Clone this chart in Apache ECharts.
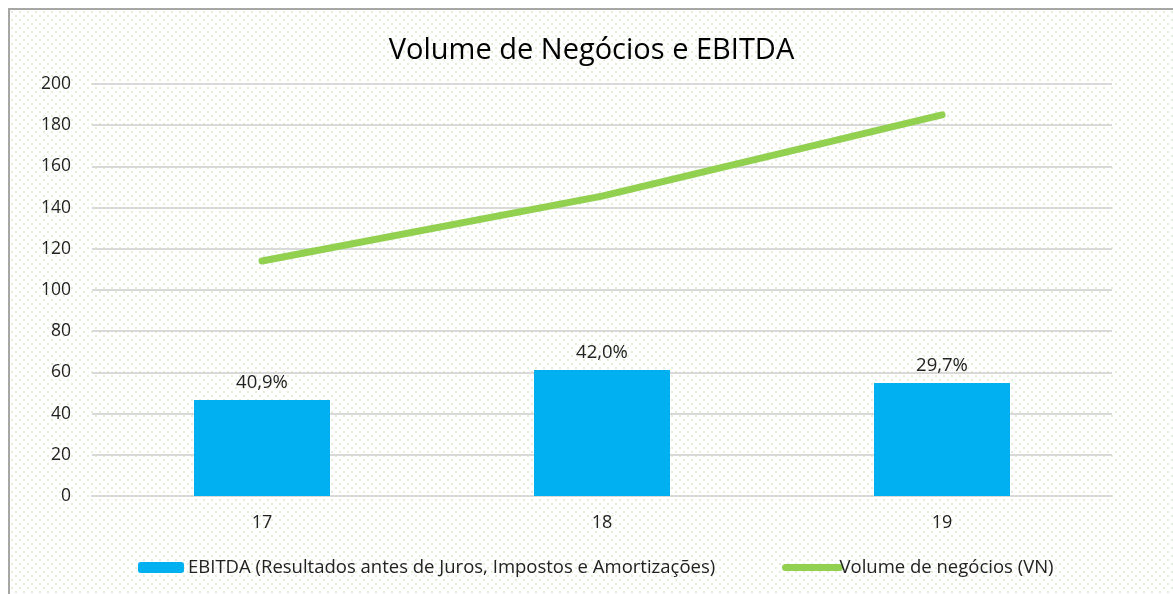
<!DOCTYPE html>
<html>
<head>
    <meta charset="utf-8">
    <title>Volume de Negócios e EBITDA</title>
    <script src="https://cdn.jsdelivr.net/npm/echarts@6/dist/echarts.min.js"></script>
    <style>
        body { margin: 0; background: #fff; }
        #frame { position: absolute; left: 8px; top: 8px; width: 1200px; height: 620px; border: 2px solid #a6a6a6; }
        #main { position: absolute; left: 10px; top: 10px; width: 1163px; height: 584px; }
    </style>
</head>
<body>
<div id="frame"></div>
<div id="main"></div>
<script>
    // dados
    var anos = ['17', '18', '19'];
    var ebitda = [46.6, 61.2, 54.9];
    var margens = ['40,9%', '42,0%', '29,7%'];
    var volumeNegocios = [114.1, 145.6, 185];

    // fundo pontilhado
    var pat = document.createElement('canvas');
    pat.width = 8; pat.height = 8;
    var ctx = pat.getContext('2d');
    ctx.fillStyle = '#ffffff';
    ctx.fillRect(0, 0, 8, 8);
    ctx.fillStyle = '#e3efd9';
    ctx.fillRect(1, 1, 2, 2);
    ctx.fillRect(5, 5, 2, 2);

    var myChart = echarts.init(document.getElementById('main'));
    var fonte = 'Open Sans';

    var option = {
        backgroundColor: { image: pat, repeat: 'repeat' },
        textStyle: { fontFamily: fonte },
        title: {
            text: 'Volume de Negócios e EBITDA',
            left: 'center',
            top: 21,
            textStyle: { fontFamily: fonte, fontSize: 29, fontWeight: 'normal', color: '#000' }
        },
        legend: [{
            left: 123, top: 543,
            itemWidth: 46, itemHeight: 11, itemGap: 4,
            data: ['EBITDA (Resultados antes de Juros, Impostos e Amortizações)'],
            textStyle: { fontFamily: fonte, fontSize: 18.5, color: '#222', padding: [0, 0, 0, -1] }
        }, {
            left: 767, top: 543,
            itemWidth: 54, itemHeight: 11, itemGap: 4,
            data: ['Volume de negócios (VN)'],
            itemStyle: { color: 'transparent', borderWidth: 0 },
            lineStyle: { width: 7, cap: 'round', color: '#92d050' },
            textStyle: { fontFamily: fonte, fontSize: 18.5, color: '#222', padding: [0, 0, 0, -5] }
        }],
        grid: { left: 82, right: 61, top: 74, bottom: 98 },
        xAxis: {
            type: 'category',
            data: anos,
            axisLine: { lineStyle: { color: '#d9d9d9', width: 2 } },
            axisTick: { show: false },
            axisLabel: { color: '#222', fontSize: 18, margin: 18, fontFamily: fonte }
        },
        yAxis: {
            type: 'value',
            min: 0, max: 200, interval: 20,
            axisLine: { show: false },
            axisTick: { show: false },
            splitLine: { lineStyle: { color: '#d9d9d9', width: 2 } },
            axisLabel: { color: '#222', fontSize: 17.5, margin: 21, fontFamily: fonte }
        },
        series: [{
            name: 'EBITDA (Resultados antes de Juros, Impostos e Amortizações)',
            type: 'bar',
            data: ebitda,
            barWidth: '40%',
            itemStyle: { color: '#00b0f0' },
            label: {
                show: true,
                position: 'top',
                distance: 8,
                color: '#222',
                fontSize: 18.5,
                fontFamily: fonte,
                formatter: function (p) { return margens[p.dataIndex]; }
            }
        }, {
            name: 'Volume de negócios (VN)',
            type: 'line',
            data: volumeNegocios,
            symbol: 'none',
            lineStyle: { color: '#92d050', width: 7, cap: 'round' },
            itemStyle: { color: '#92d050' }
        }]
    };
    myChart.setOption(option);
</script>
</body>
</html>
